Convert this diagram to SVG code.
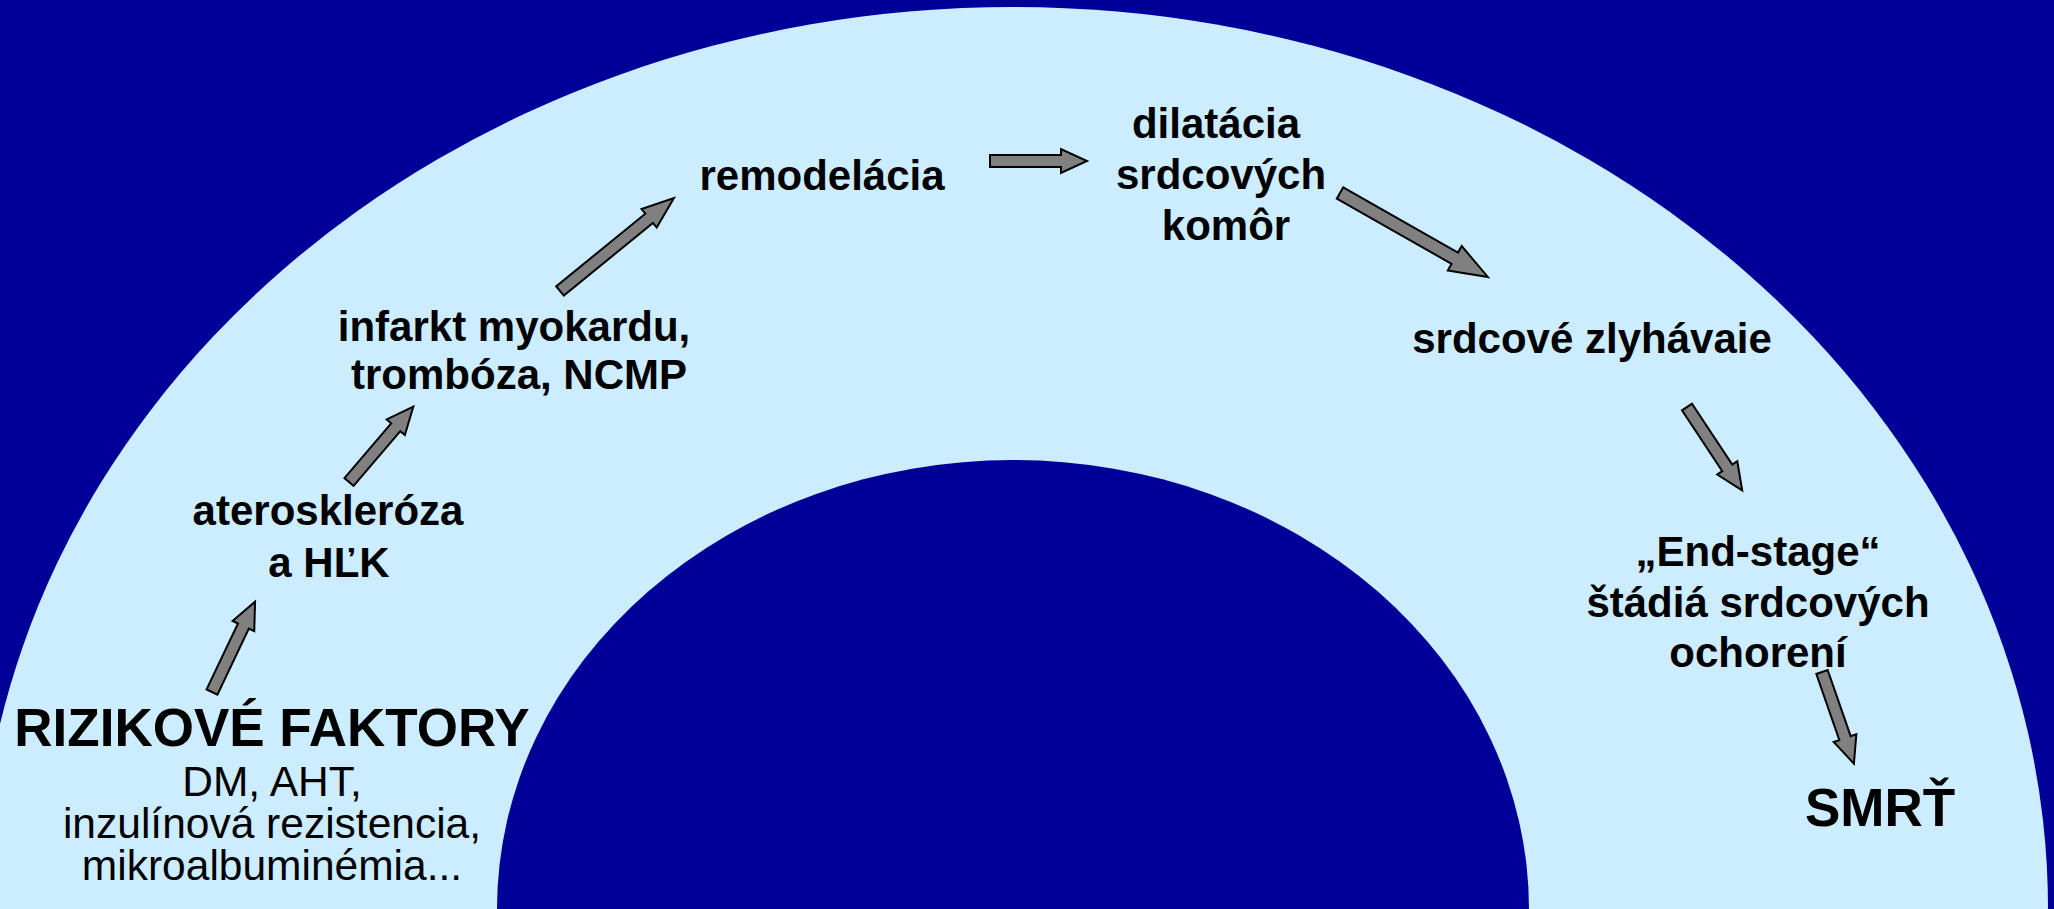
<svg xmlns="http://www.w3.org/2000/svg" width="2054" height="909" viewBox="0 0 2054 909">
<style>
text{font-family:"Liberation Sans",Arial,sans-serif;fill:#000;text-anchor:middle}
.b{font-weight:bold;font-size:42px}
.big{font-weight:bold;font-size:53px}
.r{font-size:42.5px}
.arr{fill:#808080;stroke:#000;stroke-width:2;stroke-linejoin:miter}
</style>
<rect width="2054" height="909" fill="#000099"/>
<ellipse cx="1013" cy="909" rx="1035" ry="902" fill="#CCECFF"/>
<ellipse cx="1013" cy="909" rx="516" ry="449" fill="#000099"/>
<g id="connectors">
<path class="arr" transform="translate(212,692) rotate(-64.5)" d="M0,-6 H73 V-12 L100,0 L73,12 V6 H0 Z"/>
<path class="arr" transform="translate(349,482) rotate(-49.5)" d="M0,-6 H72 V-12 L99,0 L72,12 V6 H0 Z"/>
<path class="arr" transform="translate(560,291) rotate(-39.2)" d="M0,-6 H115 V-12 L147,0 L115,12 V6 H0 Z"/>
<path class="arr" transform="translate(990,161)" d="M0,-6 H71 V-12 L97,0 L71,12 V6 H0 Z"/>
<path class="arr" transform="translate(1340,193) rotate(29.6)" d="M0,-6.5 H132 V-14 L170,0 L132,14 V6.5 H0 Z"/>
<path class="arr" transform="translate(1687,407) rotate(56.5)" d="M0,-6 H73 V-12 L100,0 L73,12 V6 H0 Z"/>
<path class="arr" transform="translate(1822,672) rotate(70.8)" d="M0,-6 H70 V-12 L97,0 L70,12 V6 H0 Z"/>
</g>
<g id="rizikove-faktory">
<text class="big" x="272" y="746">RIZIKOVÉ FAKTORY</text>
<text class="r" x="272" y="796">DM, AHT,</text>
<text class="r" x="272" y="838">inzulínová rezistencia,</text>
<text class="r" x="272" y="880">mikroalbuminémia...</text>
</g>
<g id="ateroskleroza">
<text class="b" x="328" y="525">ateroskleróza</text>
<text class="b" x="329" y="577">a HĽK</text>
</g>
<g id="infarkt">
<text class="b" x="514" y="341">infarkt myokardu,</text>
<text class="b" x="519" y="389">trombóza, NCMP</text>
</g>
<g id="remodelacia">
<text class="b" x="822" y="190">remodelácia</text>
</g>
<g id="dilatacia">
<text class="b" x="1216" y="138">dilatácia</text>
<text class="b" x="1221" y="189">srdcových</text>
<text class="b" x="1226" y="240">komôr</text>
</g>
<g id="zlyhavanie">
<text class="b" x="1592" y="353">srdcové zlyhávaie</text>
</g>
<g id="end-stage">
<text class="b" x="1758" y="566">„End-stage“</text>
<text class="b" x="1758" y="617">štádiá srdcových</text>
<text class="b" x="1758" y="667">ochorení</text>
</g>
<g id="smrt">
<text class="big" x="1880" y="826">SMRŤ</text>
</g>
</svg>
